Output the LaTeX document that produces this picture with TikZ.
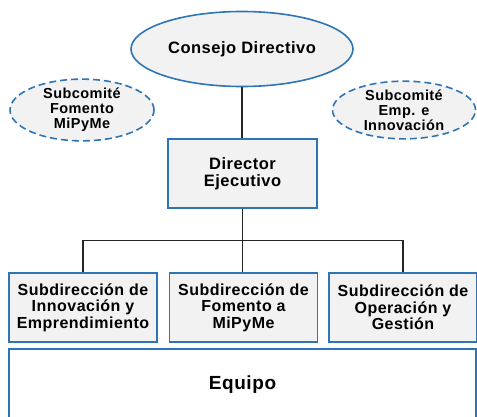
\documentclass[tikz,border=0pt]{standalone}
\usepackage{fontspec}
\setmainfont{Liberation Sans}[LetterSpace=3]
\usetikzlibrary{shapes.geometric}
\definecolor{orgblue}{RGB}{46,117,182}
\definecolor{boxgray}{RGB}{242,242,242}

\begin{document}
\begin{tikzpicture}[x=1pt,y=1pt]
\tikzset{board/.style = {ellipse, draw=orgblue, line width=1.6pt, fill=boxgray, inner sep=0pt, align=center, font=\fontsize{16.5}{17}\selectfont\bfseries}}
\tikzset{subcom/.style = {board, dash pattern=on 7pt off 4pt, font=\fontsize{14.5}{15}\selectfont\bfseries}}
\tikzset{unit/.style = {rectangle, draw=orgblue, line width=1.4pt, fill=boxgray, inner sep=0pt, align=center, minimum width=148, minimum height=69, font=\fontsize{16}{16.5}\selectfont\bfseries}}
\tikzset{link/.style = {draw=black!85, line width=1.2pt}}

\useasboundingbox (0,0) rectangle (477,416);

\node[board, minimum width=222, minimum height=75] (cd) at (242,367) {Consejo Directivo};
\node[subcom, minimum width=144, minimum height=56] (sf) at (82,306) {Subcomité\\Fomento\\MiPyMe};
\node[subcom, minimum width=143, minimum height=56] (se) at (404,306) {Subcomité\\Emp. e\\Innovación};

\node[unit, minimum width=149, font=\fontsize{16.5}{17}\selectfont\bfseries] (dir) at (242.5,242.5) {Director\\Ejecutivo};

\node[unit] (s1) at (83,108.5) {Subdirección de\\Innovación y\\Emprendimiento};
\node[unit] (s2) at (243.5,108.5) {Subdirección de\\Fomento a\\MiPyMe};
\node[unit] (s3) at (403,108.5) {Subdirección de\\Operación y\\Gestión};

\node[rectangle, draw=orgblue, line width=2.6pt, fill=white, minimum width=467, minimum height=72, font=\fontsize{19}{20}\selectfont\bfseries] (eq) at (242.5,31) {Equipo};

\draw[link] (cd.south) -- (cd.south |- dir.north);
\draw[link] (dir.south) -- ++(0,-32) coordinate (bus);
\draw[link] (bus) -| (s1.north);
\draw[link] (bus) -- (s2.north -| bus);
\draw[link] (bus) -| (s3.north);

\end{tikzpicture}
\end{document}
